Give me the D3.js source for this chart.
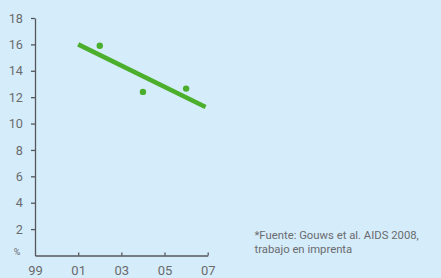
<!DOCTYPE html>
<html>
<head>
<meta charset="utf-8">
<script src="https://cdn.jsdelivr.net/npm/d3@7"></script>
<style>
	html, body { margin: 0; padding: 0; background: #d5ecfb; }
	svg { display: block; }
	.axis text { font-family: Roboto, sans-serif; fill: #6a6b6d; }
	.axis path, .axis line { stroke: #55575a; stroke-width: 1.3; }
	.note { font-family: Roboto, sans-serif; font-size: 11.3px; fill: #6a6b6d; }
</style>
</head>
<body>
<div id="chart"></div>
<script>
const years     = [2002, 2004, 2006]
	, values    = [15.9, 12.4, 12.65]
	, trendX    = [2001, 2006.9]
	, trendY    = [16, 11.25]
	, yTicks    = [2, 4, 6, 8, 10, 12, 14, 16, 18]
	, xTicks    = [1999, 2001, 2003, 2005, 2007]
	, noteLines = ["*Fuente: Gouws et al. AIDS 2008,", "trabajo en imprenta"];

const width  = 441
	, height = 278
	, green  = "#4caf2c";

const svg = d3.select("#chart")
	.append("svg")
		.attr("width", width)
		.attr("height", height);

const x = d3.scaleLinear()
	.domain([1999, 2007])
	.range([35, 207.7]);
const y = d3.scaleLinear()
	.domain([0, 18])
	.range([255.5, 18]);

// y axis
const gy = svg.append("g")
	.attr("class", "axis")
	.attr("transform", "translate(" + x(1999) + ",0)")
	.call(d3.axisLeft(y)
		.tickValues(yTicks)
		.tickSize(4)
		.tickSizeOuter(0)
		.tickPadding(8));
gy.selectAll("text").style("font-size", "12.7px");

// x axis, ticks pointing up
const gx = svg.append("g")
	.attr("class", "axis")
	.attr("transform", "translate(0," + y(0) + ")")
	.call(d3.axisBottom(x)
		.tickValues(xTicks)
		.tickFormat(d => String(d % 100).padStart(2, "0"))
		.tickSize(-3)
		.tickSizeOuter(0)
		.tickPadding(10));
gx.selectAll("text").style("font-size", "13px");
gx.selectAll(".tick").filter(d => d == 1999).select("line").remove();

// unit label
svg.append("text")
	.attr("class", "note")
	.attr("x", 17)
	.attr("y", y(0) - 1)
	.attr("text-anchor", "middle")
	.style("font-size", "9px")
	.text("%");

// trend line
svg.append("line")
	.attr("x1", x(trendX[0]))
	.attr("y1", y(trendY[0]))
	.attr("x2", x(trendX[1]))
	.attr("y2", y(trendY[1]))
	.attr("stroke", green)
	.attr("stroke-width", 4.5);

// observations
svg.selectAll("circle.obs")
	.data(years)
	.join("circle")
		.attr("class", "obs")
		.attr("cx", d => x(d))
		.attr("cy", (d, i) => y(values[i]))
		.attr("r", 3.2)
		.attr("fill", green);

// source note
svg.append("text")
	.attr("class", "note")
	.attr("x", 254.5)
	.attr("y", 239)
	.selectAll("tspan")
	.data(noteLines)
	.join("tspan")
		.attr("x", 254.5)
		.attr("dy", (d, i) => i ? 13.7 : 0)
		.text(d => d);
</script>
</body>
</html>
